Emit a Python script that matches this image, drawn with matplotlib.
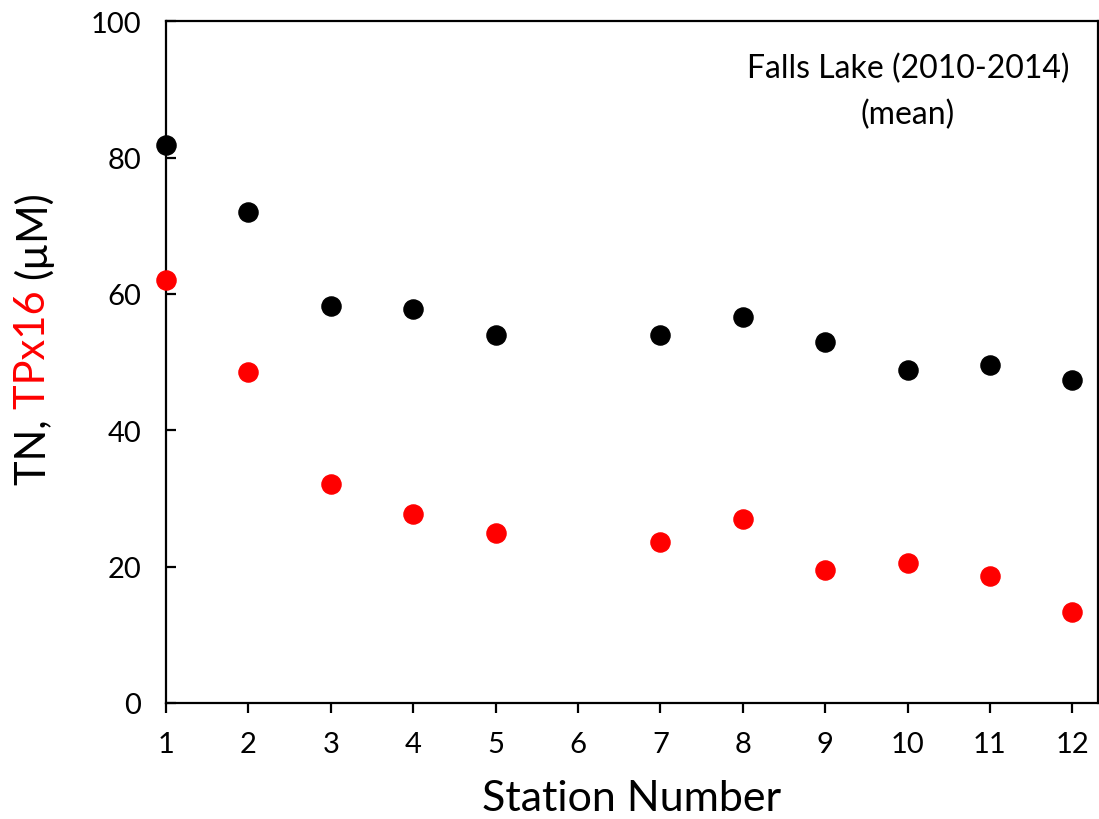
import numpy as np
import matplotlib
matplotlib.use("Agg")
import matplotlib.pyplot as plt

plt.rcParams['font.family'] = ['Lato', 'DejaVu Sans']

# Falls Lake station means, 2010-2014 (station 6 has no data)
stations = ['1', '2', '3', '4', '5', '6', '7', '8', '9', '10', '11', '12']
tn_stations = ['1', '2', '3', '4', '5', '7', '8', '9', '10', '11', '12']
tn = [81.8, 72.0, 58.2, 57.8, 54.0, 54.0, 56.6, 52.9, 48.8, 49.6, 47.4]
tp16 = [62.0, 48.5, 32.1, 27.7, 24.9, 23.6, 27.0, 19.5, 20.5, 18.6, 13.3]

fig = plt.figure(figsize=(10.99, 8.2), dpi=100)
ax = fig.add_axes([0.151, 0.1415, 0.848, 0.8315])

pos = {s: i for i, s in enumerate(stations)}
xs = [pos[s] for s in tn_stations]
ax.scatter(xs, tn, s=190, color='black', zorder=3, clip_on=False)
ax.scatter(xs, tp16, s=190, color='#ff0000', zorder=3, clip_on=False)

ax.set_xlim(0, 11.31)
ax.set_ylim(0, 100)
ax.set_xticks(range(len(stations)))
ax.set_xticklabels(stations)
ax.set_yticks(range(0, 101, 20))
for sp in ax.spines.values():
    sp.set_linewidth(1.6)
ax.tick_params(axis='y', direction='in', length=7, width=1.6, labelsize=21, pad=18)
ax.tick_params(axis='x', direction='out', length=7, width=1.6, labelsize=21, pad=13)
ax.set_xlabel('Station Number', fontsize=31, labelpad=16)

ax.text(0.796, 0.898, 'Falls Lake (2010-2014)\n(mean)', transform=ax.transAxes,
        ha='center', va='center', fontsize=23, linespacing=1.62)

# two-colour y label built from rotated pieces
renderer = fig.canvas.get_renderer()
y0 = 1 - 485 / 820
for piece, col in [('TN, ', 'black'), ('TPx16 ', '#ff0000'), ('(µM)', 'black')]:
    t = fig.text(33 / 1099, y0, piece, rotation=90, color=col, fontsize=30,
                 ha='center', va='bottom')
    bb = t.get_window_extent(renderer)
    y0 = bb.y1 / fig.bbox.height

fig.savefig('out.png', dpi=100)
